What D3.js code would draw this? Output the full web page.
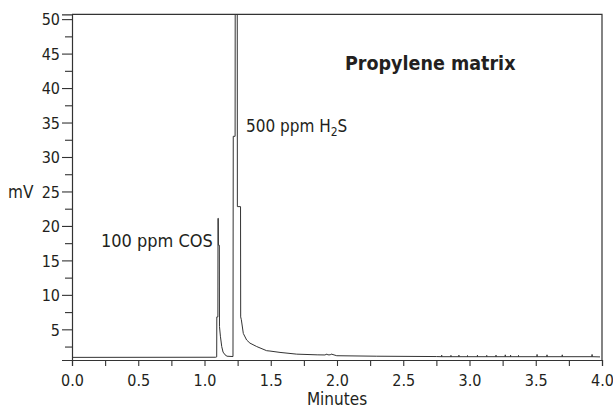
<!DOCTYPE html>
<html>
<head>
<meta charset="utf-8">
<script src="https://cdn.jsdelivr.net/npm/d3@7"></script>
<style>
  html, body { margin: 0; padding: 0; background: #fff; }
  svg text { font-family: "DejaVu Sans", sans-serif; font-stretch: condensed; fill: #231f20; }
</style>
</head>
<body>
<div class="chart-wrapper"></div>
<script>
// chromatogram trace, time in minutes / signal in mV
const times  = [0, 1.085, 1.092, 1.093, 1.101, 1.102, 1.104, 1.105, 1.112, 1.113, 1.120, 1.130, 1.140, 1.155, 1.170, 1.215,
                1.217, 1.231, 1.232, 1.247, 1.248, 1.272, 1.273, 1.278, 1.293, 1.318, 1.343, 1.394, 1.469, 1.494, 1.570, 1.696,
                1.850, 1.909, 1.925, 1.930, 1.950, 1.955, 1.998, 2.300, 2.750,
                2.790, 2.790, 2.790, 2.860, 2.860, 2.860, 2.920, 2.920, 2.920, 2.985, 2.985, 2.985, 3.060, 3.060, 3.060,
                3.130, 3.130, 3.130, 3.200, 3.200, 3.200, 3.270, 3.270, 3.270, 3.310, 3.310, 3.310, 3.370, 3.370, 3.370,
                3.510, 3.510, 3.510, 3.585, 3.585, 3.585, 3.700, 3.700, 3.700, 3.925, 3.925, 3.925, 3.985];
const signal = [0.93, 0.95, 1.0, 6.8, 6.8, 21.1, 21.1, 17.2, 17.2, 5.4, 4.0, 2.5, 1.7, 1.3, 1.1, 1.05,
                33, 33, 60, 60, 22.8, 22.8, 6.8, 6.4, 4.4, 3.45, 3.0, 2.5, 1.9, 1.85, 1.65, 1.4,
                1.3, 1.28, 1.42, 1.3, 1.3, 1.42, 1.17, 1.1, 1.05,
                1.03, 1.25, 1.03, 1.03, 1.22, 1.03, 1.03, 1.25, 1.03, 1.03, 1.2, 1.03, 1.03, 1.25, 1.03,
                1.03, 1.22, 1.03, 1.03, 1.25, 1.03, 1.03, 1.3, 1.03, 1.03, 1.25, 1.03, 1.03, 1.22, 1.03,
                1.03, 1.35, 1.03, 1.03, 1.3, 1.03, 1.03, 1.3, 1.03, 1.03, 1.35, 1.03, 1.0];

const xTicks = [0, 0.25, 0.5, 0.75, 1, 1.25, 1.5, 1.75, 2, 2.25, 2.5, 2.75, 3, 3.25, 3.5, 3.75, 4];
const yMajor = [5, 10, 15, 20, 25, 30, 35, 40, 45, 50];
const yMinor = [2.5, 7.5, 12.5, 17.5, 22.5, 27.5, 32.5, 37.5, 42.5, 47.5];

const width = 613, height = 408;
const margin = {top: 14.3, right: 11, bottom: 48, left: 72};

const x = d3.scaleLinear().domain([0, 4]).range([margin.left, width - margin.right]);
const y = d3.scaleLinear().domain([0.55, 50.7]).range([height - margin.bottom, margin.top]);

let svg = d3.select('.chart-wrapper').append('svg')
.attr('width', width)
.attr('height', height)

svg.append('clipPath').attr('id', 'plot-clip')
.append('rect')
.attr('x', x(0)).attr('y', y(50.7))
.attr('width', x(4) - x(0)).attr('height', y(0.55) - y(50.7))

// x axis: ticks every quarter minute, labels on the half
let xAxis = d3.axisBottom(x)
.tickValues(xTicks)
.tickSize(6)
.tickFormat(d => (d * 2) % 1 === 0 ? d3.format('.1f')(d) : '')

let gx = svg.append('g')
.attr('transform', `translate(0,${y(0.55)})`)
.call(xAxis)

// y axis: labelled majors plus shorter minors
let gy = svg.append('g')
.attr('transform', `translate(${x(0)},0)`)
.call(d3.axisLeft(y).tickValues(yMajor).tickSize(10).tickPadding(2))

svg.append('g')
.attr('transform', `translate(${x(0)},0)`)
.call(d3.axisLeft(y).tickValues(yMinor).tickSize(7).tickFormat(''))
.call(g => g.select('.domain').remove())

svg.selectAll('.domain').attr('stroke', '#333').attr('stroke-width', 1.2)
svg.selectAll('.tick line').attr('stroke', '#333').attr('stroke-width', 1.1)
svg.selectAll('.tick text')
.attr('font-size', 16)
.attr('font-family', null)
.attr('fill', '#231f20')
gx.selectAll('.tick text').attr('dy', '1.05em')
gy.selectAll('.tick text').attr('dy', '0.36em')

// frame top + right
svg.append('path')
.attr('d', `M${x(0)},${y(50.7)}H${x(4)}V${y(0.55)}`)
.attr('fill', 'none')
.attr('stroke', '#333')
.attr('stroke-width', 1.2)

// trace
let line = d3.line()
.x((d, i) => x(times[i]))
.y(d => y(d))

svg.append('path')
.datum(signal)
.attr('clip-path', 'url(#plot-clip)')
.attr('d', line)
.attr('fill', 'none')
.attr('stroke', '#333')
.attr('stroke-width', 1)

// labels
svg.append('text')
.attr('x', 8).attr('y', y(25))
.attr('dy', '0.36em')
.attr('font-size', 17)
.text('mV')

svg.append('text')
.attr('x', (x(0) + x(4)) / 2).attr('y', 405)
.attr('text-anchor', 'middle')
.attr('font-size', 17)
.text('Minutes')

svg.append('text')
.attr('x', 345).attr('y', 70)
.attr('font-size', 19.5)
.attr('font-weight', 'bold')
.text('Propylene matrix')

svg.append('text')
.attr('x', 101).attr('y', 247)
.attr('font-size', 18)
.text('100 ppm COS')

let h2s = svg.append('text')
.attr('x', 246).attr('y', 132)
.attr('font-size', 17)

h2s.append('tspan').text('500 ppm H')
h2s.append('tspan').attr('dy', 4).attr('font-size', 12).text('2')
h2s.append('tspan').attr('dy', -4).text('S')
</script>
</body>
</html>
